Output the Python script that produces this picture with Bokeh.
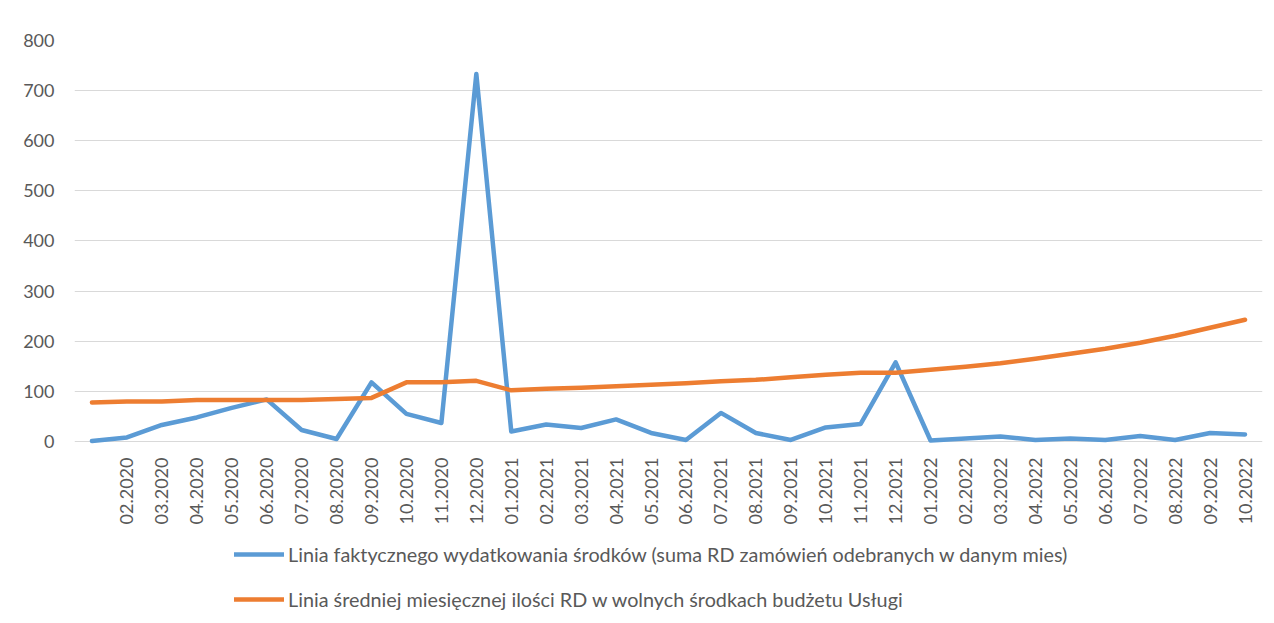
import math
from bokeh.plotting import figure
from bokeh.layouts import column
from bokeh.models import Legend, LegendItem, FixedTicker, ColumnDataSource
from bokeh.embed import file_html
from bokeh.resources import INLINE

months = ["01.2020", "02.2020", "03.2020", "04.2020", "05.2020", "06.2020", "07.2020", "08.2020",
          "09.2020", "10.2020", "11.2020", "12.2020", "01.2021", "02.2021", "03.2021", "04.2021",
          "05.2021", "06.2021", "07.2021", "08.2021", "09.2021", "10.2021", "11.2021", "12.2021",
          "01.2022", "02.2022", "03.2022", "04.2022", "05.2022", "06.2022", "07.2022", "08.2022",
          "09.2022", "10.2022"]
# first category has no visible label in the reference
tick_labels = [""] + months[1:]

actual = [1, 8, 33, 48, 67, 84, 23, 5, 118, 55, 37, 733, 20, 34, 27, 44,
          17, 3, 57, 17, 3, 28, 35, 158, 2, 6, 10, 3, 6, 3, 11, 3, 17, 14]
average = [78, 80, 80, 83, 83, 83, 83, 85, 87, 118, 118, 121, 102, 105, 107, 110,
           113, 116, 120, 123, 128, 133, 137, 137, 143, 149, 156, 165, 175, 185, 197, 211, 227, 243]

name_actual = "Linia faktycznego wydatkowania środków (suma RD zamówień odebranych w danym mies)"
name_avg = "Linia średniej miesięcznej ilości RD w wolnych środkach budżetu Usługi"

BLUE = "#5B9BD5"
ORANGE = "#ED7D31"
FONT = "Lato"
GRAY = "#595959"
LW = 4.5

x = list(range(len(months)))
src = ColumnDataSource(dict(x=x, actual=actual, average=average))

p = figure(width=1274, height=530, output_backend="svg", toolbar_location=None,
           x_range=(-0.5, len(months) - 0.5), y_range=(-6, 800),
           min_border_left=74, min_border_right=12, min_border_top=40, min_border_bottom=86)
p.outline_line_color = None
p.xgrid.visible = False
p.ygrid.grid_line_color = "#d9d9d9"
p.ygrid.grid_line_width = 1
p.yaxis.ticker = FixedTicker(ticks=[0, 100, 200, 300, 400, 500, 600, 700, 800])
p.xaxis.ticker = FixedTicker(ticks=x[1:])
p.xaxis.major_label_overrides = {i: tick_labels[i] for i in x}

for ax in (p.xaxis[0], p.yaxis[0]):
    ax.axis_line_color = None
    ax.major_tick_line_color = None
    ax.minor_tick_line_color = None
    ax.major_tick_out = 0
    ax.major_tick_in = 0
    ax.major_label_text_font = FONT
    ax.major_label_text_font_size = "18px"
    ax.major_label_text_color = GRAY

p.yaxis.major_label_standoff = 20
p.xaxis.major_label_standoff = 13
p.xaxis.major_label_orientation = math.pi / 2

p.line("x", "actual", source=src, line_color=BLUE, line_width=LW, line_join="round", line_cap="round")
p.line("x", "average", source=src, line_color=ORANGE, line_width=LW, line_join="round", line_cap="round")

# legend panel below the chart: same series, drawn outside its visible range,
# so only the legend shows
q = figure(width=1274, height=93, output_backend="svg", toolbar_location=None,
           x_range=(-0.5, len(months) - 0.5), y_range=(-2000, -1000),
           x_axis_location=None, y_axis_location=None,
           min_border_left=0, min_border_right=0, min_border_top=0, min_border_bottom=0)
q.outline_line_color = None
q.grid.visible = False
k1 = q.line("x", "actual", source=src, line_color=BLUE, line_width=LW, line_cap="round")
k2 = q.line("x", "average", source=src, line_color=ORANGE, line_width=LW, line_cap="round")

legend = Legend(items=[LegendItem(label=name_actual, renderers=[k1]),
                       LegendItem(label=name_avg, renderers=[k2])],
                location=(160, 12), orientation="vertical")
legend.border_line_color = None
legend.background_fill_alpha = 0
legend.padding = 0
legend.margin = 0
legend.spacing = 21
legend.glyph_width = 50
legend.glyph_height = 20
legend.label_height = 20
legend.label_standoff = 4
legend.label_text_font = FONT
legend.label_text_font_size = "19.8px"
legend.label_text_color = GRAY
q.add_layout(legend, "center")

layout = column(p, q, spacing=0)
open("out.html", "w").write(file_html(layout, INLINE))
